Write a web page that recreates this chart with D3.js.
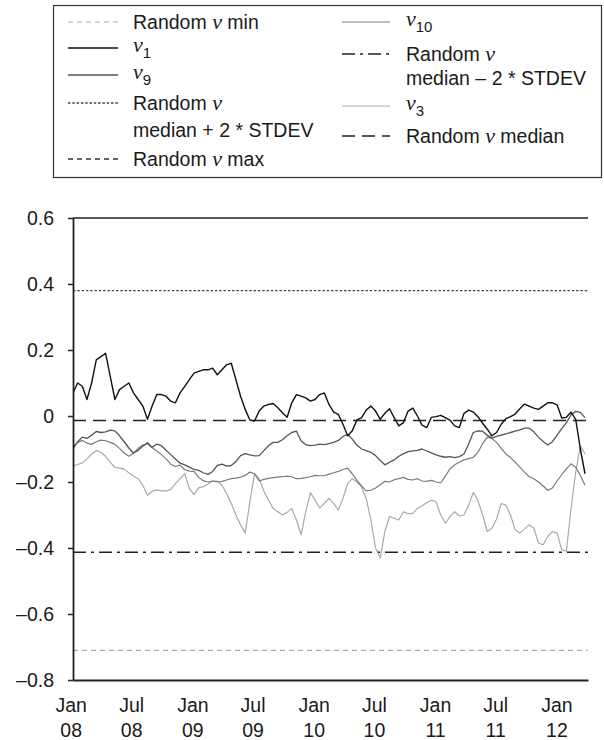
<!DOCTYPE html>
<html>
<head>
<meta charset="utf-8">
<script src="https://cdn.jsdelivr.net/npm/d3@7"></script>
<style>
  body { margin: 0; background: #fff; }
  svg { display: block; }
</style>
</head>
<body>
<svg id="chart" width="604" height="740"></svg>
<script>
const sampleStart = new Date(2008, 0, 8);
const sampleStepDays = 14;

const v1 = [0.07, 0.10, 0.09, 0.05, 0.10, 0.17, 0.18, 0.19, 0.12, 0.05,
  0.08, 0.09, 0.10, 0.07, 0.05, 0.03, -0.01, 0.03, 0.065, 0.065,
  0.06, 0.045, 0.04, 0.07, 0.09, 0.11, 0.13, 0.135, 0.14, 0.14,
  0.145, 0.125, 0.14, 0.155, 0.16, 0.11, 0.06, 0.02, -0.012, -0.015,
  0.015, 0.03, 0.035, 0.038, 0.025, 0.01, -0.004, 0.04, 0.065, 0.06,
  0.055, 0.045, 0.05, 0.065, 0.07, 0.035, 0.012, 0.005, -0.025, -0.06,
  -0.045, -0.012, -0.005, 0.018, 0.03, 0.015, -0.01, 0.008, 0.022, -0.005,
  -0.03, -0.02, 0.015, 0.024, 0.0, -0.028, -0.035, -0.004, -0.002, 0.002,
  -0.005, -0.013, -0.03, -0.035, 0.008, 0.018, 0.012, -0.002, -0.022, -0.04,
  -0.06, -0.05, -0.025, -0.008, -0.002, 0.006, 0.022, 0.036, 0.03, 0.024,
  0.02, 0.03, 0.04, 0.04, 0.034, -0.006, -0.004, 0.012, -0.01, -0.1,
  -0.175];

const v9 = [-0.10, -0.078, -0.064, -0.068, -0.058, -0.047, -0.05, -0.048, -0.043, -0.045,
  -0.06, -0.078, -0.097, -0.112, -0.104, -0.092, -0.081, -0.095, -0.085, -0.09,
  -0.104, -0.117, -0.13, -0.143, -0.148, -0.155, -0.162, -0.165, -0.172, -0.177,
  -0.168, -0.15, -0.146, -0.152, -0.15, -0.138, -0.12, -0.114, -0.118, -0.121,
  -0.12, -0.105, -0.09, -0.08, -0.08, -0.072, -0.06, -0.05, -0.046, -0.075,
  -0.087, -0.09, -0.088, -0.085, -0.087, -0.084, -0.08, -0.074, -0.062, -0.056,
  -0.07, -0.088, -0.1, -0.105, -0.11, -0.12, -0.135, -0.148, -0.14, -0.133,
  -0.122, -0.114, -0.108, -0.106, -0.104, -0.1, -0.106, -0.112, -0.118, -0.122,
  -0.125, -0.123, -0.126, -0.123, -0.115, -0.085, -0.05, -0.045, -0.046, -0.058,
  -0.067, -0.062, -0.058, -0.054, -0.05, -0.046, -0.042, -0.037, -0.037, -0.048,
  -0.064, -0.077, -0.088, -0.078, -0.058, -0.038, -0.02, 0.003, 0.014, 0.011,
  -0.005];

const v10 = [-0.093, -0.08, -0.074, -0.082, -0.086, -0.078, -0.073, -0.075, -0.08, -0.086,
  -0.098, -0.112, -0.122, -0.112, -0.098, -0.088, -0.084, -0.096, -0.106, -0.117,
  -0.13, -0.146, -0.153, -0.149, -0.163, -0.167, -0.168, -0.186, -0.196, -0.2,
  -0.197, -0.2, -0.198, -0.194, -0.19, -0.188, -0.185, -0.18, -0.17, -0.175,
  -0.197, -0.192, -0.189, -0.187, -0.185, -0.184, -0.182, -0.184, -0.19, -0.189,
  -0.187, -0.184, -0.18, -0.181, -0.181, -0.176, -0.172, -0.168, -0.162, -0.158,
  -0.175, -0.195, -0.212, -0.227, -0.225, -0.218, -0.208, -0.198, -0.2, -0.193,
  -0.19, -0.186, -0.192, -0.194, -0.19, -0.197, -0.198, -0.195, -0.2, -0.203,
  -0.182, -0.16, -0.148, -0.14, -0.133, -0.129, -0.125, -0.11, -0.084, -0.064,
  -0.068, -0.08, -0.098, -0.115, -0.126, -0.14, -0.155, -0.17, -0.184, -0.19,
  -0.2, -0.212, -0.225, -0.218, -0.197, -0.178, -0.16, -0.145, -0.155, -0.18,
  -0.21];

const v3 = [-0.151, -0.147, -0.142, -0.13, -0.115, -0.105, -0.11, -0.122, -0.14, -0.156,
  -0.158, -0.161, -0.172, -0.182, -0.19, -0.21, -0.24, -0.228, -0.224, -0.227,
  -0.227, -0.223, -0.205, -0.19, -0.175, -0.22, -0.238, -0.218, -0.214, -0.206,
  -0.197, -0.197, -0.21, -0.235, -0.265, -0.3, -0.33, -0.355, -0.26, -0.175,
  -0.19, -0.227, -0.255, -0.28, -0.29, -0.3, -0.292, -0.28, -0.315, -0.36,
  -0.29, -0.232, -0.255, -0.279, -0.265, -0.25, -0.265, -0.285, -0.25, -0.205,
  -0.19, -0.2, -0.215, -0.25, -0.315, -0.4, -0.43, -0.35, -0.305, -0.31,
  -0.315, -0.29, -0.296, -0.295, -0.28, -0.272, -0.263, -0.255, -0.26, -0.3,
  -0.325, -0.305, -0.29, -0.303, -0.3, -0.27, -0.232, -0.256, -0.3, -0.35,
  -0.34, -0.312, -0.265, -0.27, -0.3, -0.345, -0.355, -0.342, -0.33, -0.34,
  -0.385, -0.39, -0.365, -0.35, -0.355, -0.405, -0.41, -0.28, -0.17, -0.09,
  -0.115];

// Horizontal reference levels (max sits above the visible range)
const refNames = ["min", "max", "plus2sd", "median", "minus2sd"];
const refValues = [-0.71, 0.66, 0.38, -0.014, -0.413];

// Axis ticks
const yTicks = [0.6, 0.4, 0.2, 0, -0.2, -0.4, -0.6, -0.8];
const yTickLabels = ["0.6", "0.4", "0.2", "0", "\u20130.2", "\u20130.4", "\u20130.6", "\u20130.8"];
const xTickDates = ["2008-01-01", "2008-07-01", "2009-01-01", "2009-07-01", "2010-01-01",
  "2010-07-01", "2011-01-01", "2011-07-01", "2012-01-01"];
const xTickMonths = ["Jan", "Jul", "Jan", "Jul", "Jan", "Jul", "Jan", "Jul", "Jan"];
const xTickYears = ["08", "08", "09", "09", "10", "10", "11", "11", "12"];

const FONT = "'Liberation Sans', Arial, Helvetica, sans-serif";
const NUFONT = "'Liberation Serif', 'Times New Roman', serif";

// Line styles
const styles = {
  min:      { stroke: "#aaaaaa", width: 1.2, dash: "5,4" },
  max:      { stroke: "#333333", width: 1.4, dash: "5,4" },
  plus2sd:  { stroke: "#444444", width: 1.4, dash: "2.5,1.8" },
  median:   { stroke: "#222222", width: 1.5, dash: "13,7" },
  minus2sd: { stroke: "#222222", width: 1.5, dash: "13,5,3,5" },
  v1:  { stroke: "#111111", width: 1.4, dash: null },
  v9:  { stroke: "#555555", width: 1.3, dash: null },
  v10: { stroke: "#7a7a7a", width: 1.2, dash: null },
  v3:  { stroke: "#a9a9a9", width: 1.2, dash: null }
};

const svg = d3.select("#chart");
const parseDay = d3.timeParse("%Y-%m-%d");

const x = d3.scaleTime()
  .domain([new Date(2008, 0, 8), new Date(2012, 3, 5)])
  .range([73, 588]);
const y = d3.scaleLinear().domain([-0.8, 0.6]).range([680, 218]);

const dates = v1.map((d, i) => d3.timeDay.offset(sampleStart, i * sampleStepDays));

function applyStyle(sel, s) {
  sel.attr("fill", "none")
    .attr("stroke", s.stroke)
    .attr("stroke-width", s.width)
    .attr("stroke-dasharray", s.dash);
  return sel;
}

svg.append("defs").append("clipPath").attr("id", "plotClip")
  .append("rect")
  .attr("x", x.range()[0]).attr("y", y(0.6))
  .attr("width", x.range()[1] - x.range()[0])
  .attr("height", y(-0.8) - y(0.6));

const plot = svg.append("g").attr("clip-path", "url(#plotClip)");

// reference lines
refNames.forEach((name, i) => {
  applyStyle(plot.append("line"), styles[name])
    .attr("x1", x.range()[0]).attr("x2", x.range()[1])
    .attr("y1", y(refValues[i])).attr("y2", y(refValues[i]));
});

// series
const line = d3.line()
  .x((d, i) => x(dates[i]))
  .y(d => y(d));

[["v3", v3], ["v10", v10], ["v9", v9], ["v1", v1]].forEach(([name, values]) => {
  applyStyle(plot.append("path"), styles[name])
    .attr("stroke-linejoin", "round")
    .attr("d", line(values));
});

// top frame line
svg.append("line")
  .attr("x1", x.range()[0]).attr("x2", x.range()[1])
  .attr("y1", y(0.6)).attr("y2", y(0.6))
  .attr("stroke", "#222").attr("stroke-width", 1.6);

// y axis
const yAxis = svg.append("g")
  .attr("transform", `translate(${x.range()[0]},0)`)
  .call(d3.axisLeft(y)
    .tickValues(yTicks)
    .tickSize(5)
    .tickSizeOuter(0)
    .tickPadding(14)
    .tickFormat((d, i) => yTickLabels[i]));
yAxis.select(".domain").attr("stroke", "#222").attr("stroke-width", 1.8);
yAxis.selectAll(".tick line").attr("stroke", "#222").attr("stroke-width", 1.5);
yAxis.selectAll(".tick text")
  .attr("font-family", FONT).attr("font-size", 19.5).attr("fill", "#1a1a1a");

// x axis
const xAxis = svg.append("g")
  .attr("transform", `translate(0,${y(-0.8)})`)
  .call(d3.axisBottom(x)
    .tickValues(xTickDates.map(parseDay))
    .tickSize(0)
    .tickSizeOuter(0)
    .tickFormat(""));
xAxis.select(".domain").attr("stroke", "#222").attr("stroke-width", 1.8);
xAxis.selectAll(".tick text").remove();
xAxis.selectAll(".tick").each(function (d, i) {
  const t = d3.select(this).append("text")
    .attr("text-anchor", "middle")
    .attr("font-family", FONT).attr("font-size", 19.5).attr("fill", "#1a1a1a");
  t.append("tspan").attr("x", 0).attr("y", 32).text(xTickMonths[i]);
  t.append("tspan").attr("x", 0).attr("y", 57).text(xTickYears[i]);
});

// legend
const legend = svg.append("g");
legend.append("rect")
  .attr("x", 53.5).attr("y", 5.5).attr("width", 548).attr("height", 172)
  .attr("fill", "none").attr("stroke", "#333").attr("stroke-width", 1.2);

// each entry: style key, column, line y, text rows (parts), row gap
const NU = { nu: true };
const legendItems = [
  { key: "min", col: 0, ly: 22, rows: [[{ t: "Random " }, NU, { t: " min" }]] },
  { key: "v1", col: 0, ly: 48, rows: [[NU, { sub: "1" }]] },
  { key: "v9", col: 0, ly: 75, rows: [[NU, { sub: "9" }]] },
  { key: "plus2sd", col: 0, ly: 103, gap: 27, rows: [[{ t: "Random " }, NU], [{ t: "median + 2 * STDEV" }]] },
  { key: "max", col: 0, ly: 159, rows: [[{ t: "Random " }, NU, { t: " max" }]] },
  { key: "v10", col: 1, ly: 22, rows: [[NU, { sub: "10" }]] },
  { key: "minus2sd", col: 1, ly: 54, gap: 24, rows: [[{ t: "Random " }, NU], [{ t: "median \u2013 2 * STDEV" }]] },
  { key: "v3", col: 1, ly: 106, rows: [[NU, { sub: "3" }]] },
  { key: "median", col: 1, ly: 136, rows: [[{ t: "Random " }, NU, { t: " median" }]] }
];
const colLineX = [[68, 118], [342, 390]];
const colTextX = [133, 406];

legendItems.forEach(item => {
  applyStyle(legend.append("line"), styles[item.key])
    .attr("x1", colLineX[item.col][0]).attr("x2", colLineX[item.col][1])
    .attr("y1", item.ly).attr("y2", item.ly);
  const hasSub = item.rows[0].some(p => p.sub);
  item.rows.forEach((parts, r) => {
    const text = legend.append("text")
      .attr("x", colTextX[item.col])
      .attr("y", item.ly + (hasSub ? 4 : 7) + r * (item.gap || 27))
      .attr("font-family", FONT).attr("font-size", 19.5).attr("fill", "#1a1a1a");
    parts.forEach(p => {
      if (p.nu) {
        text.append("tspan").attr("font-family", NUFONT).attr("font-style", "italic")
          .attr("font-size", 22).text("\u03bd");
      } else if (p.sub) {
        text.append("tspan").attr("font-size", 15).attr("dy", 6).text(p.sub);
      } else {
        text.append("tspan").text(p.t);
      }
    });
  });
});
</script>
</body>
</html>
